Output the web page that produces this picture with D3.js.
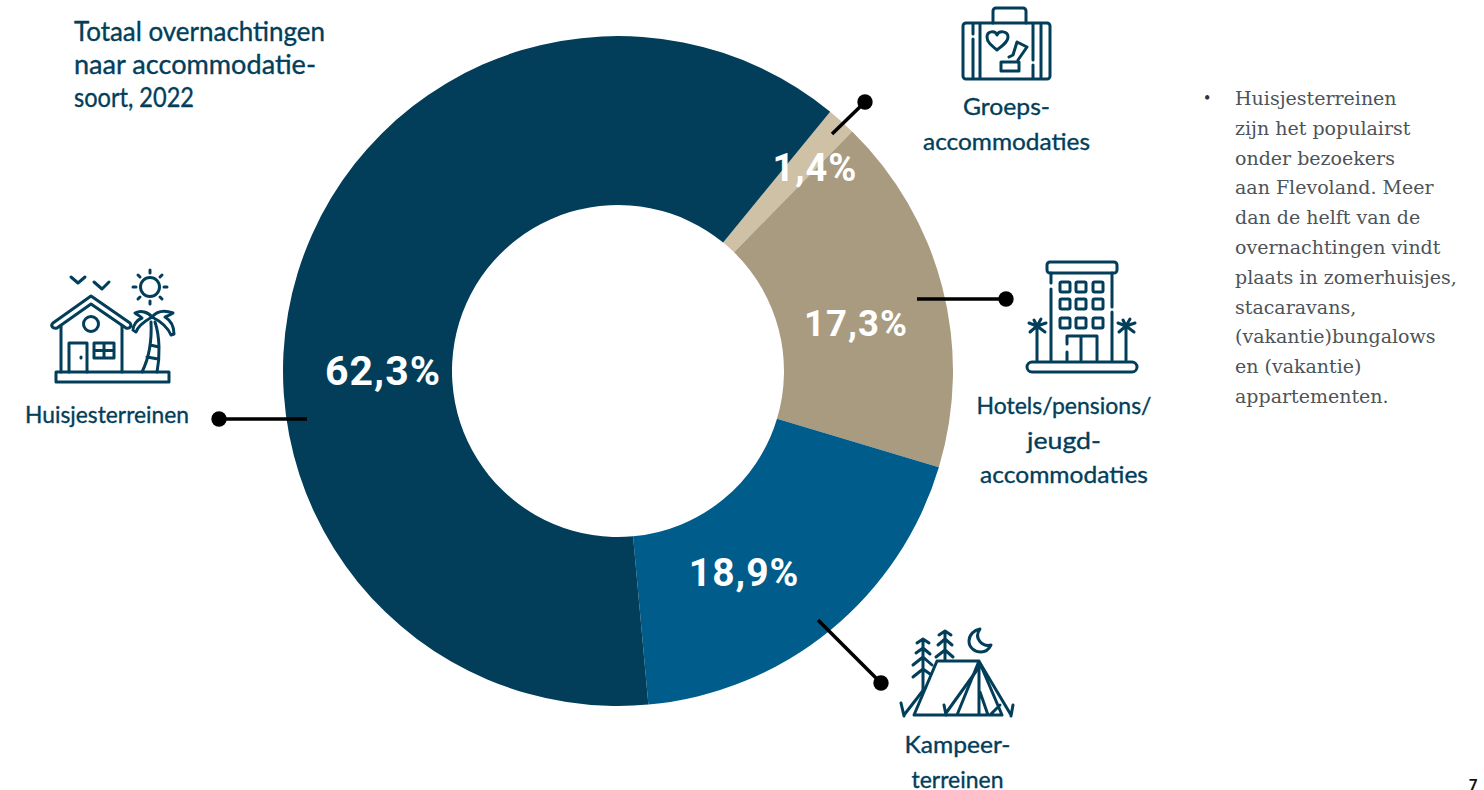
<!DOCTYPE html>
<html>
<head>
<meta charset="utf-8">
<script src="https://cdn.jsdelivr.net/npm/d3@7"></script>
<style>
  html, body { margin: 0; padding: 0; background: #fff; overflow: hidden; }
</style>
</head>
<body>
<div id="chart"></div>
<script>
// values, clockwise from the small slice
var categories = ["Groepsaccommodaties", "Hotels/pensions/jeugdaccommodaties", "Kampeerterreinen", "Huisjesterreinen"];
var shares = [1.4, 17.3, 18.9, 62.3];
var shareLabels = ["1,4%", "17,3%", "18,9%", "62,3%"];
var sliceColors = ["#cfc1a6", "#a89b80", "#005c8a", "#023e5a"];

var titleLines = ["Totaal overnachtingen", "naar accommodatie-", "soort, 2022"];
var noteLines = ["Huisjesterreinen", "zijn het populairst", "onder bezoekers", "aan Flevoland. Meer", "dan de helft van de", "overnachtingen vindt", "plaats in zomerhuisjes,", "stacaravans,", "(vakantie)bungalows", "en (vakantie)", "appartementen."];

var width = 1484, height = 790;
var ink = "#023e5a";
var cx = 618, cy = 371, outerR = 335, innerR = 166;
var startDeg = 39.3;

var svg = d3.select("#chart").append("svg")
  .attr("width", width)
  .attr("height", height);

var pie = d3.pie().sort(null).value(function(d) { return d; })
  .startAngle(startDeg * Math.PI / 180)
  .endAngle((startDeg + 360) * Math.PI / 180);
var arc = d3.arc().innerRadius(innerR).outerRadius(outerR);

var donut = svg.append("g").attr("transform", "translate(" + cx + "," + cy + ")");
var slices = pie(shares);

donut.selectAll("path")
  .data(slices)
  .enter()
  .append("path")
    .attr("d", arc)
    .attr("fill", function(d, i) { return sliceColors[i]; });

// percentage labels, placed by a radius and angle for each slice
var labelPlace = [
  {r: 283, deg: 44.1, size: 38},
  {r: 242.6, deg: 78.8, size: 36.5},
  {r: 238, deg: 148, size: 39},
  {r: 235, deg: 270, size: 41}
];
function polar(r, deg) {
  var a = deg * Math.PI / 180;
  return [cx + r * Math.sin(a), cy - r * Math.cos(a)];
}
svg.selectAll("text.share")
  .data(shareLabels)
  .enter()
  .append("text")
    .attr("class", "share")
    .attr("x", function(d, i) { return polar(labelPlace[i].r, labelPlace[i].deg)[0]; })
    .attr("y", function(d, i) { return polar(labelPlace[i].r, labelPlace[i].deg)[1]; })
    .attr("dy", "0.34em")
    .attr("text-anchor", "middle")
    .style("font-family", "Roboto, sans-serif")
    .style("font-weight", 700)
    .style("font-size", function(d, i) { return labelPlace[i].size + "px"; })
    .style("letter-spacing", "1px")
    .style("fill", "#fff")
    .text(function(d) { return d; });

// leader lines with a round dot at the end
var leaders = [
  {x1: 832, y1: 134, x2: 865, y2: 102},
  {x1: 917, y1: 299, x2: 1006, y2: 299},
  {x1: 818, y1: 620, x2: 881, y2: 683},
  {x1: 307, y1: 419, x2: 219, y2: 419}
];
var leader = svg.selectAll("g.leader").data(leaders).enter().append("g").attr("class", "leader");
leader.append("line")
  .attr("x1", function(d) { return d.x1; })
  .attr("y1", function(d) { return d.y1; })
  .attr("x2", function(d) { return d.x2; })
  .attr("y2", function(d) { return d.y2; })
  .style("stroke", "#000")
  .style("stroke-width", 3.5);
leader.append("circle")
  .attr("cx", function(d) { return d.x2; })
  .attr("cy", function(d) { return d.y2; })
  .attr("r", 7.7)
  .style("fill", "#000");

// the caption font runs wider or narrower than the original, so each line gets its measured width
function fitText(sel, w) {
  sel.attr("textLength", w).attr("lengthAdjust", "spacingAndGlyphs")
    .style("font-family", "Lato, 'Noto Sans', sans-serif")
    .style("fill", ink)
    .style("stroke", ink)
    .style("stroke-width", 0.35);
}

// category captions
var captions = [
  {lines: ["Groeps-", "accommodaties"], widths: [87, 167], x: 1006.5, y: 115},
  {lines: ["Hotels/pensions/", "jeugd-", "accommodaties"], widths: [175, 74, 168], x: 1064, y: 414},
  {lines: ["Kampeer-", "terreinen"], widths: [106, 92], x: 957.5, y: 753},
  {lines: ["Huisjesterreinen"], widths: [164], x: 107, y: 423}
];
captions.forEach(function(c) {
  c.lines.forEach(function(t, i) {
    svg.append("text")
      .attr("x", c.x)
      .attr("y", c.y + i * 34.5)
      .attr("text-anchor", "middle")
      .style("font-size", "24px")
      .call(fitText, c.widths[i])
      .text(t);
  });
});

// title top left
var titleWidths = [251, 242, 120];
titleLines.forEach(function(t, i) {
  svg.append("text")
    .attr("x", 74)
    .attr("y", 41 + i * 33)
    .style("font-size", "26px")
    .call(fitText, titleWidths[i])
    .text(t);
});

// side note
svg.append("text")
  .attr("x", 1204).attr("y", 104)
  .style("font-family", "'Liberation Serif', serif")
  .style("font-size", "18px")
  .style("fill", "#333")
  .text("\u2022");
svg.selectAll("text.note")
  .data(noteLines)
  .enter()
  .append("text")
    .attr("class", "note")
    .attr("x", 1235)
    .attr("y", function(d, i) { return 105 + i * 29.8; })
    .style("font-family", "'DejaVu Serif', serif")
    .style("font-size", "19px")
    .style("fill", "#4d5358")
    .text(function(d) { return d; });

// page number
svg.append("text")
  .attr("x", 1469).attr("y", 790)
  .style("font-family", "Roboto, sans-serif")
  .style("font-weight", 700)
  .style("font-size", "15px")
  .style("fill", "#111")
  .text("7");

// line icons, drawn in page coordinates
function icon() {
  return svg.append("g")
    .style("fill", "none")
    .style("stroke", ink)
    .style("stroke-width", 3)
    .style("stroke-linecap", "round")
    .style("stroke-linejoin", "round");
}

// suitcase
var suitcase = icon();
suitcase.append("rect").attr("x", 963).attr("y", 23).attr("width", 87).attr("height", 56).attr("rx", 3);
suitcase.append("path").attr("d", "M993 23V11a3 3 0 0 1 3-3h27a3 3 0 0 1 3 3v12");
suitcase.append("path").attr("d", "M973 24v10M973 39v39M980 24v54M1033 24v36M1033 65v13M1041 24v54");
suitcase.append("path").attr("d", "M997 50c-6-5-10-8-10-13 0-6 8-7 10-2 2-5 11-4 11 2 0 5-5 8-11 13z");
suitcase.append("path").attr("d", "M1001 71V62h18v9zM1009 57l4-2 4-13 10 5-9 13");

// house with palm tree
var house = icon();
house.append("path").attr("d", "M91 296L53 323c-3 3 0 6 4 5l34-24 35 24c4 1 6-2 4-5z");
house.append("path").attr("d", "M61 326v46M122 326v46");
house.append("circle").attr("cx", 91).attr("cy", 324).attr("r", 7.5);
house.append("path").attr("d", "M69 372v-29h18v29M81 357v1");
house.append("path").attr("d", "M94 343h20v15H94zM94 350.5h20M104 343v15");
house.append("rect").attr("x", 56).attr("y", 372).attr("width", 113).attr("height", 10);
house.append("path").attr("d", "M71 277l7 6 7-6M94 282l8 7 7-7");
house.append("circle").attr("cx", 150).attr("cy", 287).attr("r", 9.5);
house.append("path").attr("d", "M150 270v3M150 301v3M133 287h3M164 287h3M138 275l2 2M160 297l2 2M162 275l-2 2M140 297l-2 2");
house.append("path").attr("d", "M142 372c6-12 10-30 9-50M157 372c3-15 3-35-2-50M147 357l11 2M150 345l9 2");
house.append("path").attr("d", "M152 317c-4-5-11-7-17-4 3 2 5 3 7 5-5 2-9 7-9 12l3 2c2-6 9-11 16-15zM152 317c5-6 13-7 21-4-3 2-6 3-8 4 5 3 9 9 9 17l-3 1c-3-7-11-14-19-18z");

// hotel
var hotel = icon();
hotel.append("rect").attr("x", 1047).attr("y", 262).attr("width", 70).attr("height", 11).attr("rx", 3);
hotel.append("path").attr("d", "M1051 273v10M1051 289v71M1112 273v34M1112 312v48");
hotel.append("rect").attr("x", 1027).attr("y", 362).attr("width", 110).attr("height", 10).attr("rx", 5);
[1060, 1076, 1093].forEach(function(px) {
  [282, 299, 318].forEach(function(py) {
    hotel.append("rect").attr("x", px).attr("y", py).attr("width", 10).attr("height", 10).attr("rx", 1.5);
  });
});
hotel.append("path").attr("d", "M1067 344v-8h30v24M1067 352v8M1081 337v23");
[1037, 1126].forEach(function(px) {
  hotel.append("path").attr("d", "M" + px + " 360v-34M" + px + " 326l-8-3M" + px + " 326l-3-6M" + px + " 326l4-7M" + px + " 326l9-3M" + px + " 326l-7 6M" + px + " 326l8 6");
});

// tent
var tent = icon();
tent.append("path").attr("d", "M937 661h42l23 54h-88zM979 661l-22 54M979 661v54M980 692l8 23M990 715l10-10");
tent.append("path").attr("d", "M901 703l3 13M904 715l21-27M944 705l2 10M946 713l31-43M1013 705l-2 11M1011 715l-31-52");
tent.append("path").attr("d", "M923 640v50M917 643l6-4 6 4M916 653l7-5 7 6M913 665l10-8 9 8M913 677l10-8 7 5");
tent.append("path").attr("d", "M945 631v29M939 635l6-4 6 4M938 645l7-6 7 6M936 657l9-7 8 7");
tent.append("path").attr("d", "M980 629c-6 1-11 6-11 12 0 7 6 11 12 11 4 0 8-3 10-7-8 2-18-6-11-16z");
</script>
</body>
</html>
